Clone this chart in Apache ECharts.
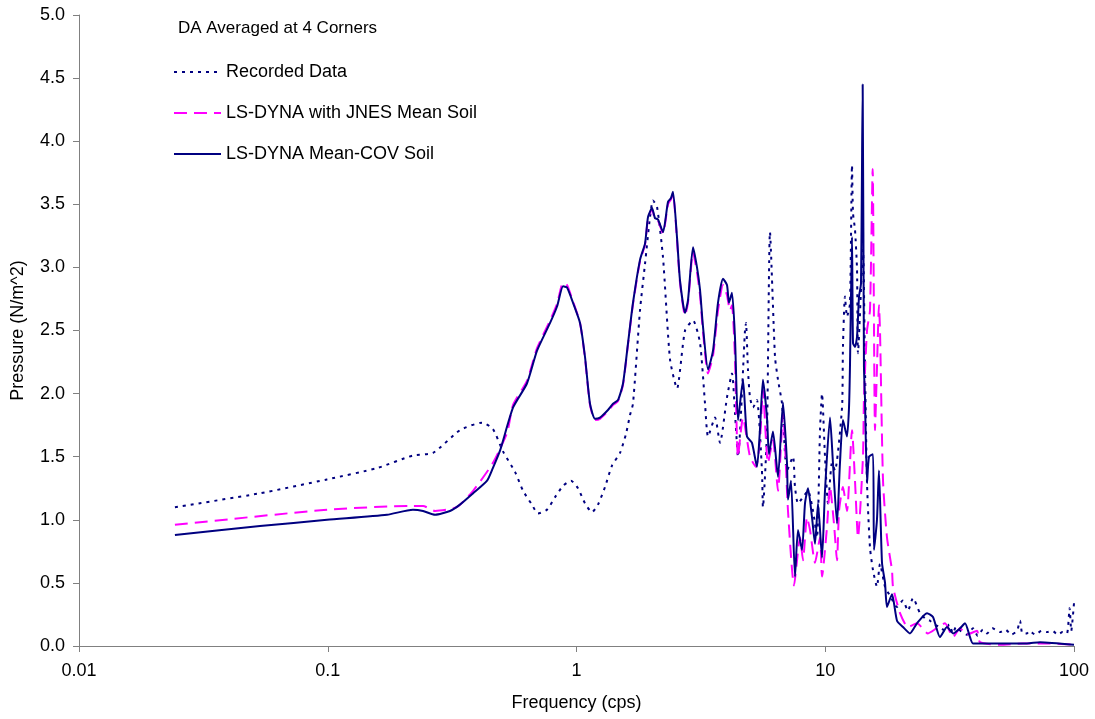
<!DOCTYPE html>
<html>
<head>
<meta charset="utf-8">
<script src="https://cdn.jsdelivr.net/npm/echarts@6/dist/echarts.min.js"></script>
<style>
html,body{margin:0;padding:0;background:#fff;}
#chart{width:1095px;height:719px;}
</style>
</head>
<body>
<div id="chart"></div>
<script>
var chartTitle = 'DA Averaged at 4 Corners';
var seriesNames = ['Recorded Data', 'LS-DYNA with JNES Mean Soil', 'LS-DYNA Mean-COV Soil'];
var xTickLabels = ['0.01', '0.1', '1', '10', '100'];

var recFreq = [0.0243,0.0534,0.0993,0.158,0.220,0.265,0.340,0.417,0.461,0.507,0.566,0.610,0.662,0.700,0.761,0.820,0.883,0.950,1.014,1.082,1.154,1.220,1.302,1.389,1.496,1.581,1.641,1.687,1.800,1.886,1.975,2.030,2.107,2.227,2.377,2.535,2.731,2.941,3.138,3.286,3.379,3.605,3.775,4.027,4.218,4.335,4.459,4.757,4.801,4.890,4.982,5.122,5.314,5.566,5.617,5.832,5.995,6.281,6.457,6.702,7.018,7.419,7.557,7.770,8.139,8.526,8.929,9.266,9.527,9.705,9.977,10.26,10.64,10.94,11.68,11.78,12.00,12.23,12.57,12.81,12.93,13.17,13.42,13.54,14.18,14.44,14.72,15.13,15.56,16.14,16.60,17.39,18.2,19.43,20.5,21.5,22.53,24.04,25.2,26.37,27.5,28.93,30.3,31.5,32.64,33.5,35.0,37.0,39.26,41.0,43.0,44.70,47.0,50.40,53.0,56.0,59.0,60.67,62.0,64.71,66.0,70.0,74.0,77.90,82.0,86.0,90.0,93.72,96.0,97.5,100];
var recVal  = [1.10,1.21,1.32,1.41,1.51,1.53,1.71,1.77,1.72,1.54,1.38,1.23,1.12,1.05,1.08,1.18,1.27,1.31,1.25,1.13,1.06,1.12,1.26,1.43,1.53,1.68,1.83,1.92,2.66,3.03,3.40,3.53,3.48,3.08,2.27,2.04,2.50,2.58,2.40,1.92,1.66,1.81,1.61,1.97,2.16,1.85,1.50,2.50,2.56,2.19,1.97,1.89,1.95,1.39,1.10,1.71,3.28,2.29,2.11,1.92,1.39,1.50,1.26,1.13,1.18,1.23,1.07,0.86,1.71,2.00,1.50,1.13,1.45,1.39,1.89,2.37,2.77,2.61,2.71,3.81,3.43,3.30,2.98,2.32,3.14,2.24,1.29,0.78,0.60,0.47,0.65,0.47,0.40,0.31,0.36,0.28,0.38,0.26,0.22,0.20,0.17,0.15,0.12,0.17,0.10,0.15,0.12,0.09,0.14,0.08,0.13,0.10,0.14,0.11,0.13,0.09,0.12,0.20,0.10,0.10,0.12,0.09,0.12,0.11,0.12,0.09,0.11,0.10,0.30,0.12,0.34];

var jnesFreq = [0.0243,0.0993,0.220,0.2415,0.270,0.330,0.384,0.461,0.526,0.556,0.632,0.694,0.783,0.835,0.883,0.916,0.968,1.033,1.082,1.133,1.187,1.243,1.338,1.402,1.469,1.538,1.611,1.687,1.800,1.886,1.939,2.012,2.068,2.126,2.227,2.333,2.399,2.443,2.535,2.606,2.731,2.807,2.941,3.051,3.138,3.225,3.379,3.538,3.706,3.881,4.027,4.140,4.218,4.335,4.459,4.670,4.982,5.265,5.463,5.617,5.885,6.164,6.457,6.764,7.084,7.489,7.916,8.139,8.446,8.684,9.096,9.527,9.705,10.16,10.45,10.84,11.15,11.36,11.78,12.23,12.81,13.17,13.54,14.18,14.31,14.72,15.13,15.51,15.85,16.14,16.44,16.60,17.07,17.71,18.55,18.72,19.98,21.51,23.38,25.88,28.0,30.30,32.64,34.82,37.0,40.75,41.89,50.40,62.37,80.09,100];
var jnesVal  = [0.96,1.08,1.11,1.11,1.07,1.10,1.23,1.45,1.69,1.91,2.10,2.36,2.58,2.71,2.88,2.86,2.73,2.56,2.28,1.91,1.79,1.80,1.86,1.91,1.94,2.07,2.39,2.71,3.05,3.18,3.39,3.46,3.38,3.37,3.27,3.50,3.54,3.58,3.22,2.88,2.62,2.72,3.12,2.96,2.78,2.49,2.16,2.30,2.66,2.86,2.78,2.66,2.70,2.29,1.50,1.81,1.50,1.42,1.63,2.03,1.45,1.63,1.23,1.84,1.07,0.48,0.86,0.68,1.02,0.92,0.66,0.86,0.55,0.94,1.26,0.97,0.68,1.07,1.26,1.07,1.71,1.31,0.86,1.50,1.97,2.50,2.66,3.78,1.71,2.20,2.70,2.50,1.31,0.86,0.60,0.47,0.26,0.15,0.18,0.10,0.14,0.18,0.07,0.14,0.09,0.12,0.03,0.01,0.02,0.02,0.01];

var covFreq = [0.0243,0.0534,0.0993,0.173,0.220,0.2415,0.270,0.310,0.340,0.384,0.437,0.461,0.493,0.556,0.632,0.694,0.783,0.835,0.883,0.916,0.968,1.033,1.082,1.133,1.187,1.243,1.338,1.402,1.469,1.538,1.611,1.687,1.800,1.886,1.939,2.012,2.068,2.126,2.227,2.333,2.399,2.443,2.535,2.606,2.731,2.807,2.941,3.051,3.138,3.225,3.379,3.538,3.706,3.881,4.027,4.102,4.218,4.335,4.459,4.670,4.846,5.075,5.314,5.463,5.617,5.832,5.940,6.164,6.457,6.764,7.018,7.084,7.283,7.557,7.770,8.064,8.291,8.526,8.846,9.096,9.353,9.705,9.977,10.45,10.74,11.15,11.46,11.78,12.23,12.46,12.57,12.81,12.93,13.17,13.42,13.67,13.92,14.14,14.31,14.44,14.72,14.99,15.56,15.70,16.14,16.44,16.91,17.39,17.71,18.55,19.43,20.54,21.91,23.38,25.65,27.11,28.93,30.87,32.64,34.82,36.47,38.19,39.26,47.25,64.71,73.02,100];
var covVal  = [0.88,0.95,1.00,1.04,1.08,1.07,1.04,1.07,1.12,1.21,1.31,1.41,1.55,1.89,2.08,2.34,2.56,2.69,2.85,2.84,2.72,2.56,2.29,1.92,1.80,1.81,1.87,1.92,1.95,2.08,2.40,2.72,3.06,3.19,3.40,3.47,3.39,3.38,3.28,3.52,3.55,3.60,3.24,2.90,2.64,2.74,3.16,3.00,2.82,2.53,2.19,2.34,2.72,2.91,2.86,2.72,2.80,2.45,1.79,2.11,1.66,1.61,1.42,1.71,2.11,1.81,1.52,1.70,1.34,1.93,1.45,1.16,1.31,0.55,0.92,0.76,1.13,1.25,1.02,0.81,1.13,0.70,1.23,1.81,1.45,0.97,1.45,1.79,1.66,1.89,2.21,3.24,2.40,2.37,2.45,2.77,2.87,4.45,2.21,1.97,1.29,1.50,1.52,0.76,1.00,1.39,0.66,0.50,0.31,0.41,0.20,0.15,0.10,0.18,0.26,0.23,0.07,0.15,0.10,0.14,0.18,0.07,0.02,0.02,0.02,0.03,0.01];

function pairs(fs, vs) { return fs.map(function (f, i) { return [f, vs[i]]; }); }

var chart = echarts.init(document.getElementById('chart'), null, {renderer: 'canvas'});
var font = 'Liberation Sans, Arial, sans-serif';
var axisColor = '#808080';

chart.setOption({
  animation: false,
  backgroundColor: '#ffffff',
  title: {
    text: chartTitle,
    left: 178, top: 20, padding: 0,
    textStyle: {fontFamily: font, fontSize: 17, fontWeight: 'normal', color: '#000'}
  },
  legend: {
    orient: 'vertical',
    left: 173, top: 63, padding: 0,
    itemWidth: 47, itemHeight: 14, itemGap: 23,
    itemStyle: {opacity: 0},
    textStyle: {fontFamily: font, fontSize: 18, color: '#000'},
    data: seriesNames
  },
  grid: {left: 79, right: 21, top: 15, bottom: 73, containLabel: false},
  xAxis: {
    type: 'log', logBase: 10, min: 0.01, max: 100,
    name: 'Frequency (cps)', nameLocation: 'middle', nameGap: 48,
    nameTextStyle: {fontFamily: font, fontSize: 18, color: '#000'},
    axisLine: {show: true, lineStyle: {color: axisColor, width: 1}},
    axisTick: {show: true, inside: false, length: 6, lineStyle: {color: axisColor}},
    minorTick: {show: false},
    splitLine: {show: false},
    axisLabel: {
      margin: 16, fontFamily: font, fontSize: 18, color: '#000',
      formatter: function (v) { return xTickLabels[Math.round(Math.log10(v)) + 2]; }
    }
  },
  yAxis: {
    type: 'value', min: 0, max: 5, interval: 0.5,
    name: 'Pressure (N/m^2)', nameLocation: 'middle', nameGap: 52,
    nameTextStyle: {fontFamily: font, fontSize: 18, color: '#000'},
    axisLine: {show: true, lineStyle: {color: axisColor, width: 1}},
    axisTick: {show: true, inside: false, length: 6, lineStyle: {color: axisColor}},
    splitLine: {show: false},
    axisLabel: {
      margin: 14, fontFamily: font, fontSize: 18, color: '#000',
      formatter: function (v) { return v.toFixed(1); }
    }
  },
  series: [
    {
      name: seriesNames[0], type: 'line', data: pairs(recFreq, recVal),
      symbol: 'none', showSymbol: false, smooth: 0.2,
      lineStyle: {color: '#000080', width: 2, type: [3, 5], cap: 'butt'},
      itemStyle: {color: '#000080'}, z: 2
    },
    {
      name: seriesNames[1], type: 'line', data: pairs(jnesFreq, jnesVal),
      symbol: 'none', showSymbol: false, smooth: 0.2,
      lineStyle: {color: '#ff00ff', width: 2, type: [13, 7], cap: 'butt'},
      itemStyle: {color: '#ff00ff'}, z: 3
    },
    {
      name: seriesNames[2], type: 'line', data: pairs(covFreq, covVal),
      symbol: 'none', showSymbol: false, smooth: 0.2,
      lineStyle: {color: '#000080', width: 2, type: 'solid'},
      itemStyle: {color: '#000080'}, z: 4
    }
  ]
});
</script>
</body>
</html>
